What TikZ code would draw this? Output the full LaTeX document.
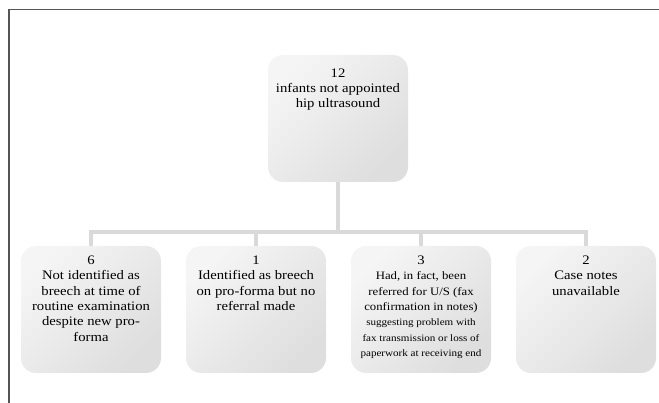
\documentclass[tikz,border=0pt]{standalone}
\usepackage{fontspec}
\setmainfont{Liberation Serif}[FakeStretch=1.13]
\usetikzlibrary{positioning}
\definecolor{cardlight}{RGB}{245,245,245}
\definecolor{carddark}{RGB}{222,222,222}
\definecolor{linkgray}{RGB}{217,217,217}
\definecolor{framegray}{RGB}{85,85,85}
\tikzset{%
	card/.style     = {rectangle, rounded corners=15pt, minimum width=140pt, minimum height=127pt, inner sep=0pt, top color=cardlight, bottom color=carddark, shading angle=45},
	cardtext/.style = {anchor=north, inner sep=0pt, align=center, font=\fontsize{13}{15.3}\selectfont},
	link/.style     = {line width=4pt, draw=linkgray},
	frame/.style    = {line width=1.5pt, draw=framegray},
}
\newcommand{\midtxt}{\fontsize{11.3}{15}\selectfont}
\newcommand{\smalltxt}{\fontsize{9.8}{13.5}\selectfont}

\begin{document}
\begin{tikzpicture}[x=1pt,y=-1pt]
	\useasboundingbox (0,0) rectangle (659,403);
	\draw[frame] (9,403) -- (9,9.5) -- (659,9.5);
	
	\node[card] (top) at (338,118.5) {};
	\node[card] (b1) at (91,309.5) {};
	\node[card] (b2) at (256,309.5) {};
	\node[card] (b3) at (421,309.5) {};
	\node[card] (b4) at (586,309.5) {};
	
	\node[cardtext,below=13.5pt of top.north] (toptxt) {12\\infants not appointed\\hip ultrasound};
	\node[cardtext,below=10pt of b1.north] (b1txt) {6\\Not identified as\\breech at time of\\routine examination\\despite new pro-\\forma};
	\node[cardtext,below=10pt of b2.north] (b2txt) {1\\Identified as breech\\on pro-forma but no\\referral made};
	\node[cardtext,below=10pt of b3.north] (b3txt) {3\\{\midtxt Had, in fact, been}\\{\midtxt referred for U/S (fax}\\{\midtxt confirmation in notes)}\\{\smalltxt suggesting problem with}\\{\smalltxt fax transmission or loss of}\\{\smalltxt paperwork at receiving end}};
	\node[cardtext,below=10pt of b4.north] (b4txt) {2\\Case notes\\unavailable};
	
	\coordinate (bus) at (0,232);
	\draw[link] (top.south) -- (top.south |- bus);
	\draw[link] (b1.north) -- (b1.north |- bus) -- (b4.north |- bus) -- (b4.north);
	\draw[link] (b2.north) -- (b2.north |- bus);
	\draw[link] (b3.north) -- (b3.north |- bus);
\end{tikzpicture}
\end{document}
